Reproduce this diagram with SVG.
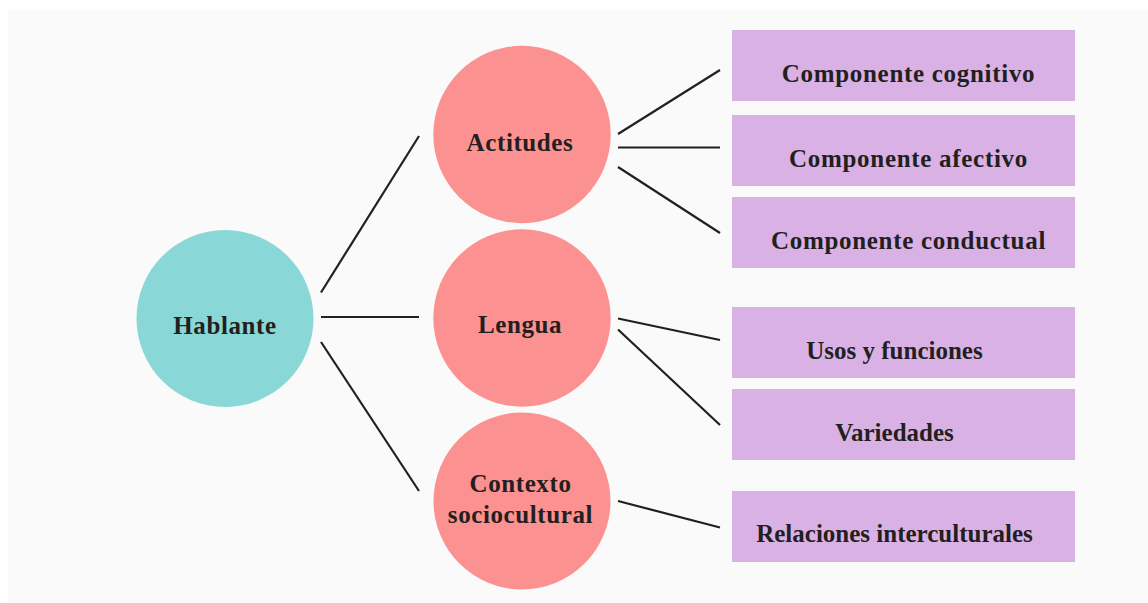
<svg xmlns="http://www.w3.org/2000/svg" width="1148" height="603" viewBox="0 0 1148 603">
  <style>
    .bg { fill: #fafafa; }
    .root { fill: #8ad7d7; }
    .mid { fill: #fc9191; }
    .leaf { fill: #d9b1e4; }
    .label { font-family: "Liberation Serif", "Times New Roman", serif; font-weight: bold; font-size: 25px; fill: #231f20; text-anchor: middle; }
    .wide { letter-spacing: 0.7px; }
    .round { letter-spacing: 0.6px; }
    .edge { stroke: #231f20; stroke-width: 2.2; fill: none; }
  </style>
  <rect x="0" y="0" width="1148" height="603" fill="#ffffff"/>
  <rect class="bg" x="8" y="10" width="1140" height="593"/>

  <g id="connectors">
    <line class="edge" x1="321" y1="292.5" x2="419" y2="136"/>
    <line class="edge" x1="321" y1="317" x2="419" y2="317"/>
    <line class="edge" x1="321" y1="342" x2="419" y2="491"/>
    <line class="edge" x1="618" y1="134" x2="720" y2="70"/>
    <line class="edge" x1="618" y1="147.5" x2="720" y2="147.5"/>
    <line class="edge" x1="618" y1="167" x2="720" y2="233"/>
    <line class="edge" x1="618" y1="318.5" x2="720" y2="340"/>
    <line class="edge" x1="618" y1="329.5" x2="720" y2="425"/>
    <line class="edge" x1="618" y1="501" x2="720" y2="527.5"/>
  </g>

  <g id="hablante">
    <circle class="root" cx="225" cy="318.5" r="88.5"/>
    <text class="label round" x="225" y="333.5">Hablante</text>
  </g>

  <g id="actitudes">
    <circle class="mid" cx="522" cy="134.5" r="88.7"/>
    <text class="label round" x="520" y="150.7">Actitudes</text>
  </g>
  <g id="lengua">
    <circle class="mid" cx="522" cy="318" r="88.7"/>
    <text class="label round" x="520" y="332.5">Lengua</text>
  </g>
  <g id="contexto">
    <circle class="mid" cx="522" cy="501" r="88.5"/>
    <text class="label round" x="520.5" y="491.7">Contexto</text>
    <text class="label round" x="520.5" y="523.3">sociocultural</text>
  </g>

  <g id="cognitivo">
    <rect class="leaf" x="732" y="30" width="343" height="71"/>
    <text class="label wide" x="908.5" y="81.7">Componente cognitivo</text>
  </g>
  <g id="afectivo">
    <rect class="leaf" x="732" y="115" width="343" height="71"/>
    <text class="label wide" x="908.5" y="166.7">Componente afectivo</text>
  </g>
  <g id="conductual">
    <rect class="leaf" x="732" y="197" width="343" height="71"/>
    <text class="label wide" x="908.5" y="249">Componente conductual</text>
  </g>
  <g id="usos">
    <rect class="leaf" x="732" y="307" width="343" height="71"/>
    <text class="label" x="894.5" y="359">Usos y funciones</text>
  </g>
  <g id="variedades">
    <rect class="leaf" x="732" y="389" width="343" height="71"/>
    <text class="label" x="894.5" y="441">Variedades</text>
  </g>
  <g id="relaciones">
    <rect class="leaf" x="732" y="491" width="343" height="71"/>
    <text class="label" x="894.5" y="542.3">Relaciones interculturales</text>
  </g>
</svg>
